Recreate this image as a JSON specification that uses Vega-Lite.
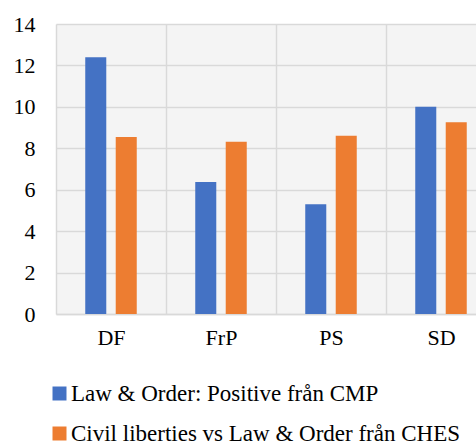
{
  "$schema": "https://vega.github.io/schema/vega-lite/v6.json",
  "autosize": {"type": "none"},
  "padding": {"left": 56, "top": 24, "right": 0, "bottom": 131},
  "width": 420,
  "height": 290,
  "background": "white",
  "config": {
    "view": {"stroke": null, "fill": "#f4f4f4"},
    "font": "Liberation Serif"
  },
  "data": {
    "values": [
      {"party": "DF", "series": "Law & Order: Positive från CMP", "value": 12.4},
      {"party": "DF", "series": "Civil liberties vs Law & Order från CHES", "value": 8.55},
      {"party": "FrP", "series": "Law & Order: Positive från CMP", "value": 6.37},
      {"party": "FrP", "series": "Civil liberties vs Law & Order från CHES", "value": 8.32},
      {"party": "PS", "series": "Law & Order: Positive från CMP", "value": 5.3},
      {"party": "PS", "series": "Civil liberties vs Law & Order från CHES", "value": 8.61},
      {"party": "SD", "series": "Law & Order: Positive från CMP", "value": 10.0},
      {"party": "SD", "series": "Civil liberties vs Law & Order från CHES", "value": 9.26}
    ]
  },
  "mark": {"type": "bar"},
  "encoding": {
    "x": {
      "field": "party",
      "type": "nominal",
      "sort": ["DF", "FrP", "PS", "SD"],
      "scale": {"range": [0, 440], "paddingInner": 0, "paddingOuter": 0},
      "axis": {
        "title": null,
        "labelAngle": 0,
        "labelFont": "Liberation Serif",
        "labelFontSize": 22,
        "labelColor": "#000000",
        "labelPadding": 13,
        "ticks": false,
        "tickBand": "extent",
        "grid": true,
        "gridColor": "#d9d9d9",
        "gridWidth": 1.5,
        "domainColor": "#d9d9d9",
        "domainWidth": 1.5
      }
    },
    "xOffset": {
      "field": "series",
      "type": "nominal",
      "sort": ["Law & Order: Positive från CMP", "Civil liberties vs Law & Order från CHES"],
      "scale": {"paddingInner": 0.31, "paddingOuter": 0.96}
    },
    "y": {
      "field": "value",
      "type": "quantitative",
      "scale": {"domain": [0, 14], "nice": false},
      "axis": {
        "title": null,
        "values": [0, 2, 4, 6, 8, 10, 12, 14],
        "labelFont": "Liberation Serif",
        "labelFontSize": 22,
        "labelColor": "#000000",
        "labelPadding": 21,
        "ticks": false,
        "domain": false,
        "grid": true,
        "gridColor": "#d9d9d9",
        "gridWidth": 1.5
      }
    },
    "color": {
      "field": "series",
      "type": "nominal",
      "sort": ["Law & Order: Positive från CMP", "Civil liberties vs Law & Order från CHES"],
      "scale": {
        "domain": ["Law & Order: Positive från CMP", "Civil liberties vs Law & Order från CHES"],
        "range": ["#4472C4", "#ED7D31"]
      },
      "legend": {
        "title": null,
        "orient": "none",
        "legendX": -8,
        "legendY": 358,
        "direction": "vertical",
        "padding": 0,
        "symbolType": "square",
        "symbolSize": 196,
        "symbolStrokeWidth": 0,
        "labelFont": "Liberation Serif",
        "labelFontSize": 23,
        "labelColor": "#000000",
        "labelOffset": 0,
        "labelLimit": 500,
        "rowPadding": 16
      }
    }
  }
}
